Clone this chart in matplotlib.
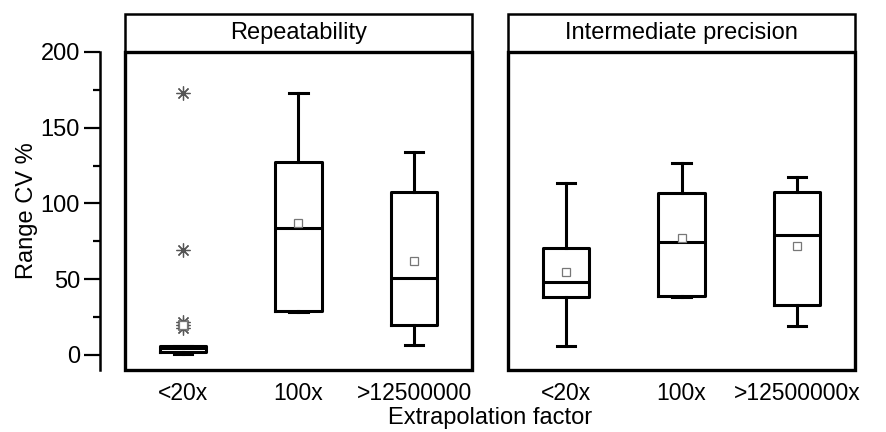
import numpy as np
import matplotlib
matplotlib.use("Agg")
import matplotlib.pyplot as plt
from matplotlib.patches import Rectangle

plt.rcParams['font.family'] = ['Liberation Sans', 'DejaVu Sans']

# valores
categorias_rep = ["<20x", "100x", ">12500000"]
categorias_ip = ["<20x", "100x", ">12500000x"]

rep_q1 = [1.8, 29.0, 19.8]
rep_med = [4.5, 84.0, 50.6]
rep_q3 = [6.1, 127.2, 107.4]
rep_wlo = [0.5, 28.6, 6.6]
rep_whi = [6.1, 173.0, 134.0]
rep_mean = [19.5, 87.0, 62.0]
rep_fliers = [[173.0, 69.0, 22.0, 20.0, 18.0], [], []]

ip_q1 = [38.1, 38.9, 33.0]
ip_med = [48.4, 74.4, 79.0]
ip_q3 = [70.8, 106.7, 107.4]
ip_wlo = [5.8, 38.3, 19.3]
ip_whi = [113.7, 126.5, 117.7]
ip_mean = [54.6, 77.0, 72.0]
ip_fliers = [[], [], []]


def montar_stats(q1, med, q3, wlo, whi, media, fliers):
    stats = []
    for i in range(len(q1)):
        stats.append(dict(q1=q1[i], med=med[i], q3=q3[i], whislo=wlo[i],
                          whishi=whi[i], mean=media[i], fliers=fliers[i]))
    return stats


def desenhar_painel(ax, stats, categorias, titulo):
    lw = 2.2
    ax.bxp(stats, positions=[1, 2, 3], widths=0.4, capwidths=0.16,
           showmeans=True, showfliers=True, patch_artist=False,
           boxprops=dict(color='black', linewidth=lw),
           whiskerprops=dict(color='black', linewidth=lw),
           capprops=dict(color='black', linewidth=lw),
           medianprops=dict(color='black', linewidth=lw),
           meanprops=dict(marker='s', markerfacecolor='white',
                          markeredgecolor='#777777', markersize=6,
                          markeredgewidth=0.9),
           flierprops=dict(marker=(8, 2, 0), markeredgecolor='#555555',
                           markerfacecolor='#555555', markersize=10,
                           markeredgewidth=0.9, linestyle='none'))
    ax.set_xlim(0.5, 3.5)
    ax.set_ylim(-10, 200)
    ax.set_xticks([1, 2, 3])
    ax.set_xticklabels(categorias, fontsize=16.5)
    ax.tick_params(axis='x', length=0, pad=9)
    for s in ['top', 'right', 'bottom']:
        ax.spines[s].set_visible(False)
    # moldura do painel
    ax.add_patch(Rectangle((0, 0), 1, 1, transform=ax.transAxes, fill=False,
                           edgecolor='black', linewidth=2.4, clip_on=False))
    # faixa do titulo
    h = 38 / 318
    ax.add_patch(Rectangle((0, 1), 1, h, transform=ax.transAxes, fill=False,
                           edgecolor='black', linewidth=1.8, clip_on=False))
    ax.text(0.5, 1 + h / 2, titulo, transform=ax.transAxes, ha='center',
            va='center', fontsize=17)


fig = plt.figure(figsize=(8.87, 4.32), dpi=100)
ax1 = fig.add_axes([125 / 887, 62 / 432, 347 / 887, 318 / 432])
ax2 = fig.add_axes([508 / 887, 62 / 432, 347 / 887, 318 / 432])

desenhar_painel(ax1, montar_stats(rep_q1, rep_med, rep_q3, rep_wlo, rep_whi, rep_mean, rep_fliers),
                categorias_rep, "Repeatability")
desenhar_painel(ax2, montar_stats(ip_q1, ip_med, ip_q3, ip_wlo, ip_whi, ip_mean, ip_fliers),
                categorias_ip, "Intermediate precision")

# eixo y separado do painel
ax1.spines['left'].set_position(('outward', 18))
ax1.spines['left'].set_linewidth(1.8)
ax1.set_yticks(np.arange(0, 201, 50))
ax1.set_yticks(np.arange(0, 201, 25), minor=True)
ax1.tick_params(axis='y', which='major', length=11.5, width=1.6, labelsize=17, pad=3)
ax1.tick_params(axis='y', which='minor', length=5, width=1.6)
ax1.set_ylabel("Range CV %", fontsize=17, labelpad=2)

ax2.spines['left'].set_visible(False)
ax2.set_yticks([])

fig.text(490 / 887, 1 - 418 / 432, "Extrapolation factor", ha='center',
         va='center', fontsize=17)

fig.savefig("out.png", dpi=100)
